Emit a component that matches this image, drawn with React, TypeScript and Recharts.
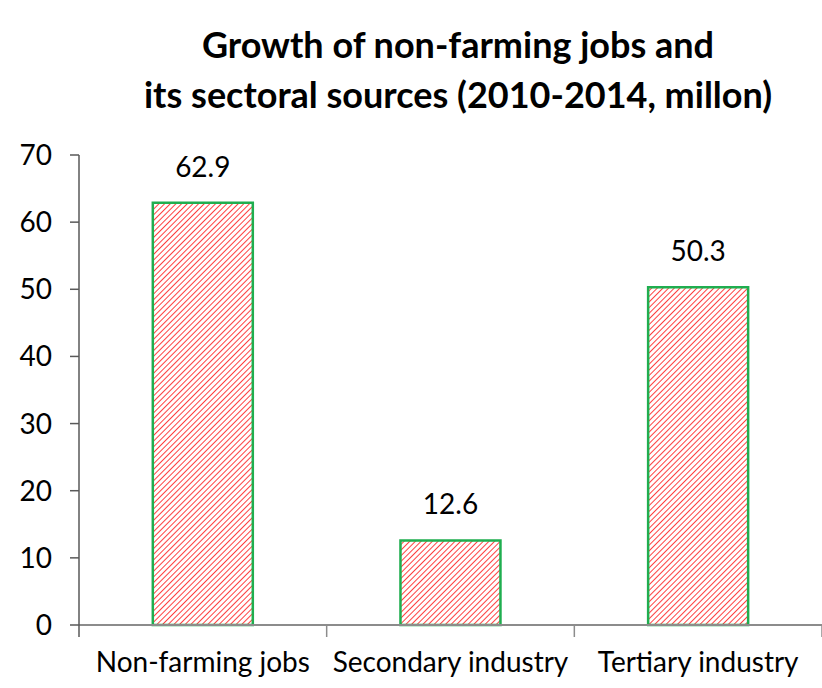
import React from 'react';
import { BarChart, Bar, XAxis, YAxis, LabelList } from 'recharts';

const categories = ['Non-farming jobs', 'Secondary industry', 'Tertiary industry'];
const jobGrowth = [62.9, 12.6, 50.3];
const yTicks = [0, 10, 20, 30, 40, 50, 60, 70];

const data = categories.map((name, i) => ({ name, value: jobGrowth[i] }));

const W = 822;
const H = 688;
const LEFT = 79;
const X_AXIS_COLOR = '#8c8c8c';
const Y_AXIS_COLOR = '#595959';
const FONT = 'Lato, "Open Sans", sans-serif';

const band = (W - LEFT) / categories.length;

const CategoryTick = (props: any) => {
  const { x, y, payload, index } = props;
  return (
    <g>
      <line x1={x - band / 2} y1={y} x2={x - band / 2} y2={y + 12} stroke={index === 0 ? Y_AXIS_COLOR : X_AXIS_COLOR} strokeWidth={1.5} />
      {index === categories.length - 1 && (
        <line x1={x + band / 2} y1={y} x2={x + band / 2} y2={y + 12} stroke={X_AXIS_COLOR} strokeWidth={1.5} />
      )}
      <text x={x} y={y + 47} textAnchor="middle" fontSize={28} fill="#000" fontFamily={FONT}>
        {payload.value}
      </text>
    </g>
  );
};

export default function App() {
  return (
    <div style={{ position: 'absolute', left: 0, top: 0, width: W, height: H, background: '#fff' }}>
      <div
        style={{
          position: 'absolute',
          left: 0,
          width: 916,
          top: 19,
          textAlign: 'center',
          fontFamily: FONT,
          fontWeight: 700,
          fontSize: 36,
          lineHeight: '50px',
          color: '#000',
        }}
      >
        Growth of non-farming jobs and
        <br />
        its sectoral sources (2010-2014, millon)
      </div>
      <BarChart
        width={W}
        height={H}
        data={data}
        margin={{ top: 155, right: 0, left: 0, bottom: 0 }}
        barCategoryGap="29.8%"
      >
        <defs>
          <pattern id="hatch" width="4" height="4" patternUnits="userSpaceOnUse" patternTransform="rotate(45)">
            <rect width="4" height="4" fill="#fff" />
            <line x1="0" y1="0" x2="0" y2="4" stroke="#ff4040" strokeWidth="2" />
          </pattern>
        </defs>
        <XAxis
          dataKey="name"
          tick={<CategoryTick />}
          tickLine={false}
          tickSize={0}
          tickMargin={0}
          axisLine={{ stroke: X_AXIS_COLOR, strokeWidth: 2 }}
          height={63}
          interval={0}
        />
        <YAxis
          domain={[0, 70]}
          ticks={yTicks}
          width={LEFT}
          tickSize={9}
          tickMargin={18}
          axisLine={{ stroke: Y_AXIS_COLOR, strokeWidth: 1.5 }}
          tickLine={{ stroke: Y_AXIS_COLOR, strokeWidth: 1.5 }}
          tick={{ fontSize: 28, fill: '#000', fontFamily: FONT }}
        />
        <Bar dataKey="value" fill="url(#hatch)" stroke="#1fae4f" strokeWidth={2.5} isAnimationActive={false}>
          <LabelList dataKey="value" position="top" offset={26} fontSize={28} fill="#000" fontFamily={FONT} />
        </Bar>
      </BarChart>
    </div>
  );
}
